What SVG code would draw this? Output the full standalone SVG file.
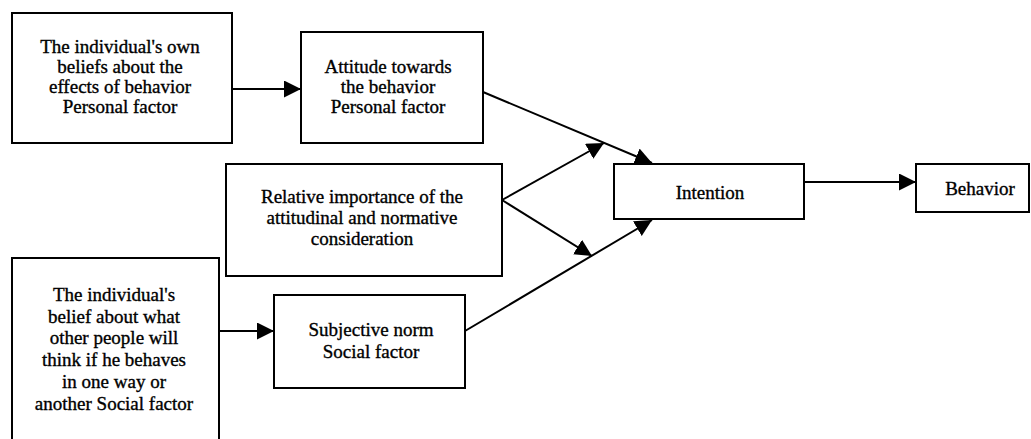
<svg xmlns="http://www.w3.org/2000/svg" width="1031" height="439" viewBox="0 0 1031 439">
<style>
.box{fill:#fff;stroke:#000;stroke-width:2}
.t{font-family:'Liberation Serif','DejaVu Serif',serif;font-size:19px;fill:#000;text-anchor:middle;stroke:#000;stroke-width:0.35}
.c{fill:none;stroke:#000;stroke-width:2}
</style>
<defs>
<marker id="ah" markerUnits="userSpaceOnUse" markerWidth="17" markerHeight="17" refX="17" refY="8.5" orient="auto" viewBox="0 0 17 17">
<path d="M0,0 L17,8.5 L0,17 z" fill="#000"/>
</marker>
</defs>
<rect width="1031" height="439" fill="#fff"/>
<g id="connectors">
<line class="c" x1="232" y1="89" x2="301" y2="89" marker-end="url(#ah)"/>
<line class="c" x1="483" y1="92" x2="652" y2="163" marker-end="url(#ah)"/>
<line class="c" x1="502" y1="200" x2="604" y2="143" marker-end="url(#ah)"/>
<line class="c" x1="502" y1="200" x2="592" y2="256" marker-end="url(#ah)"/>
<line class="c" x1="465" y1="331" x2="652" y2="220" marker-end="url(#ah)"/>
<line class="c" x1="219" y1="331" x2="274" y2="331" marker-end="url(#ah)"/>
<line class="c" x1="804" y1="182" x2="916" y2="182" marker-end="url(#ah)"/>
</g>
<g id="beliefs-personal">
<rect class="box" x="12" y="13" width="220" height="130"/>
<text class="t" x="120" y="53" font-family="Liberation Serif">The individual's own</text>
<text class="t" x="120" y="73">beliefs about the</text>
<text class="t" x="120" y="93">effects of behavior</text>
<text class="t" x="120" y="113">Personal factor</text>
</g>
<g id="attitude">
<rect class="box" x="301" y="32" width="182" height="111"/>
<text class="t" x="388" y="73">Attitude towards</text>
<text class="t" x="388" y="93">the behavior</text>
<text class="t" x="388" y="113">Personal factor</text>
</g>
<g id="relative-importance">
<rect class="box" x="226" y="164" width="276" height="112"/>
<text class="t" x="362" y="203">Relative importance of the</text>
<text class="t" x="362" y="224">attitudinal and normative</text>
<text class="t" x="362" y="245">consideration</text>
</g>
<g id="intention">
<rect class="box" x="614" y="164" width="190" height="55"/>
<text class="t" x="710" y="199">Intention</text>
</g>
<g id="behavior">
<rect class="box" x="916" y="164" width="113" height="48"/>
<text class="t" x="980" y="195">Behavior</text>
</g>
<g id="subjective-norm">
<rect class="box" x="274" y="295" width="191" height="93"/>
<text class="t" x="371" y="336">Subjective norm</text>
<text class="t" x="371" y="358">Social factor</text>
</g>
<g id="beliefs-social">
<rect class="box" x="12" y="258" width="207" height="200"/>
<text class="t" x="114" y="301">The individual's</text>
<text class="t" x="114" y="323">belief about what</text>
<text class="t" x="114" y="344">other people will</text>
<text class="t" x="114" y="366">think if he behaves</text>
<text class="t" x="114" y="388">in one way or</text>
<text class="t" x="114" y="410">another Social factor</text>
</g>
</svg>
